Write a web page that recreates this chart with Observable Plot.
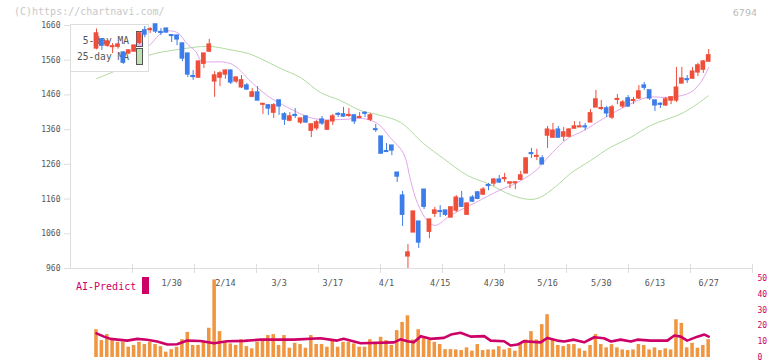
<!DOCTYPE html>
<html><head><meta charset="utf-8">
<script src="https://cdn.jsdelivr.net/npm/d3@7"></script>
<script src="https://cdn.jsdelivr.net/npm/@observablehq/plot@0.6"></script>
<style>
html,body{margin:0;padding:0;background:#fff;}
#wrap{position:relative;width:772px;height:361px;overflow:hidden;}
#wrap svg{position:absolute;left:0;top:0;}
</style></head><body>
<div id="wrap"></div>
<script>
// ---- data (index = trading day) ----
const opens = [1594,1620,1602,1598,1599,1582,1580,1585,1610,1646,
1647,1663,1641,1651,1632,1631,1608,1579,1514,1510,
1550,1585,1499,1510,1519,1530,1499,1482,1487,1455,
1467,1432,1430,1409,1444,1404,1386,1402,1381,1398,
1357,1364,1389,1360,1384,1405,1404,1400,1401,1394,
1408,1389,1361,1340,1298,1314,1236,1170,995,1064,
1095,1187,1066,1118,1125,1127,1107,1127,1161,1115,
1164,1179,1173,1200,1205,1216,1218,1205,1206,1216,
1234,1292,1282,1277,1343,1337,1360,1340,1340,1363,
1367,1369,1381,1424,1420,1421,1395,1446,1427,1450,
1443,1450,1487,1473,1444,1434,1430,1444,1444,1493,
1505,1507,1525,1533,1556];
const highs = [1650,1620,1617,1608,1607,1585,1590,1603,1642,1657,
1654,1664,1651,1652,1634,1632,1610,1580,1530,1558,
1580,1620,1527,1527,1532,1532,1511,1516,1493,1478,
1484,1435,1432,1435,1445,1409,1409,1421,1392,1398,
1375,1386,1398,1386,1404,1409,1424,1421,1402,1409,
1412,1407,1375,1340,1320,1314,1236,1182,1029,1124,
1095,1187,1101,1136,1141,1127,1136,1170,1182,1147,
1170,1182,1193,1205,1219,1228,1234,1208,1208,1240,
1277,1306,1303,1285,1369,1378,1369,1366,1363,1383,
1383,1378,1418,1473,1444,1427,1430,1461,1444,1458,
1453,1487,1496,1473,1444,1438,1453,1453,1539,1539,
1516,1539,1551,1559,1591];
const lows = [1590,1588,1597,1579,1592,1548,1576,1583,1605,1625,
1637,1637,1631,1638,1611,1602,1556,1510,1502,1508,
1536,1583,1453,1484,1505,1490,1493,1478,1473,1453,
1444,1404,1401,1392,1401,1372,1383,1392,1375,1378,
1337,1357,1372,1358,1372,1395,1395,1395,1375,1392,
1395,1383,1352,1291,1294,1285,1208,1081,960,1064,
1018,1130,1046,1107,1107,1110,1107,1121,1136,1115,
1150,1158,1170,1184,1196,1205,1208,1190,1187,1213,
1234,1277,1271,1260,1306,1337,1337,1326,1337,1363,
1366,1357,1381,1424,1415,1395,1389,1432,1421,1424,
1432,1447,1473,1444,1412,1421,1427,1432,1438,1493,
1493,1507,1513,1522,1556];
const closes = [1637,1602,1614,1600,1605,1553,1588,1602,1637,1634,
1649,1643,1639,1640,1630,1620,1565,1519,1512,1556,
1579,1605,1516,1522,1530,1496,1510,1502,1476,1467,
1444,1434,1421,1430,1427,1389,1398,1400,1392,1381,
1375,1381,1378,1384,1398,1403,1398,1402,1384,1396,
1406,1401,1359,1291,1296,1300,1225,1115,1006,1124,
1035,1138,1101,1127,1123,1115,1136,1164,1138,1147,
1153,1161,1187,1198,1216,1208,1220,1208,1208,1228,
1277,1290,1284,1260,1360,1357,1337,1352,1360,1369,
1369,1367,1407,1447,1422,1407,1424,1448,1438,1427,
1445,1470,1481,1450,1430,1432,1447,1453,1481,1507,
1503,1527,1545,1556,1574];
const volumes = [17.6,10.7,14.5,10.7,9.6,9.6,6.5,7.6,9.6,8.2,
9.6,8.2,6.9,3.4,5.0,6.5,11.3,15.9,7.6,7.6,
9.6,18.5,49.1,16.4,9.6,8.6,7.6,11.3,6.9,5.5,
9.6,11.1,13.9,14.5,7.6,13.9,5.9,9.0,8.2,5.9,
13.9,8.2,8.2,6.5,11.1,6.5,9.6,9.6,8.6,6.5,
6.5,11.3,9.6,12.8,10.7,7.6,17.0,22.2,26.4,11.1,
17.6,12.8,11.3,9.6,8.2,5.0,5.0,4.8,4.4,6.1,
4.0,8.2,4.4,4.8,4.8,6.9,4.8,5.7,4.0,8.2,
11.1,16.4,11.1,20.8,27.1,11.1,7.6,6.9,8.2,8.2,
5.5,4.0,7.6,14.5,8.2,6.1,8.2,6.1,4.8,4.4,
4.8,8.2,7.6,4.8,6.1,4.4,5.5,4.8,23.9,21.6,
6.1,9.0,5.9,7.6,11.3];

const ma5Idx = [9,10,12.5,15,17,18.5,19.5,21,23.5,25.3,27,28.3,31.8,35.6,40.4,45.4,49.5,52.3,54.7,57.2,58.5,59.8,61.6,63.1,65.9,70.6,75,78.4,81.8,84.9,87.7,90.7,94.4,98.9,102.6,106.9,110.6,112.5,114];
const ma5 = [1592,1605,1642,1640,1605,1585,1558,1555,1555,1548,1527,1505,1458,1424,1392,1389,1392,1378,1337,1291,1213,1147,1098,1084,1113,1150,1185,1208,1242,1294,1334,1357,1392,1430,1453,1453,1467,1496,1539];
const ma25Idx = [0,3.2,9.7,15.3,20.9,24.6,28.3,30.5,34.3,38,41.7,45.4,49.2,52.9,56.6,60.9,64.6,69.1,72.8,77.5,80.6,82.5,85.5,88.3,92,95.7,99.4,103.2,109.3,114];
const ma25 = [1507,1527,1574,1591,1600,1591,1579,1565,1536,1510,1467,1444,1415,1401,1381,1320,1277,1228,1205,1170,1159,1164,1196,1234,1271,1309,1337,1372,1409,1458];

const aiIdx = [0,1.4,2.6,5.7,7.6,9.4,11.3,13.2,15,16.9,19.4,21.9,24.3,27.5,30.6,36.8,41.7,44.8,46,49.2,55.4,56.6,57.9,59.1,60.4,62.2,64.7,66,67.8,69.7,72.2,73.4,75.9,77.1,78.4,79.6,82.7,84,85.8,87.1,88.9,90.8,92.7,94.5,95.8,97.6,99.5,100.7,103.2,106.3,107.6,108.8,110,111.9,113.2,114];
const aiVal = [15.3,13.2,11.8,10.7,11.8,11.2,10.1,8.2,8.4,10.7,10.4,9.0,10.3,10.5,11.3,11.3,12.2,10.7,11.8,9.0,9.6,11.5,10.3,9.6,13.5,11.8,12.4,14.5,15.7,13.2,13.5,10.7,10.3,7.6,8.2,10.3,9.6,12.4,10.7,10.1,11.3,9.6,12.8,12.2,10.1,11.3,10.1,11.3,10.7,10.7,13.9,13.2,10.7,13.2,14.5,13.2];

const dateIdx = [14,24,34,44,54,64,74,84,94,104,114];
const dateLabels = ["1/30","2/14","3/3","3/17","4/1","4/15","4/30","5/16","5/30","6/13","6/27"];
const yTicks = [960,1060,1160,1260,1360,1460,1560,1660];
const volTicks = [0,10,20,30,40,50];

// ---- styling ----
const RED = "#ef4e3b", BLUE = "#3d7de9", ORANGE = "#f19640", MAG = "#cc0066";
const MONO = "DejaVu Sans Mono";
const xDomain = [-4.84, 122.16];

const candles = opens.map((o, i) => ({i, o, h: highs[i], l: lows[i], c: closes[i]}));
const colorOf = d => d.c >= d.o ? RED : BLUE;

function decor(index, scales, values, dims) {
  const g = d3.create("svg:g");
  g.append("text").attr("x", 14).attr("y", 15).attr("text-anchor", "start").attr("font-family", MONO).attr("font-size", 10)
    .attr("fill", "#c8c8c8").text("(C)https://chartnavi.com/");
  g.append("text").attr("x", 757).attr("y", 16).attr("text-anchor", "end").attr("font-family", "DejaVu Sans")
    .attr("font-size", 9.5).attr("fill", "#bbbbbb").text("6794");
  const x0 = dims.marginLeft, yb = dims.height - dims.marginBottom;
  for (let k = 1; k <= 11; k++) {
    const x = Math.round(x0 + 62 * k) + 0.5;
    g.append("line").attr("x1", x).attr("x2", x).attr("y1", yb - 4).attr("y2", yb + 5).attr("stroke", "#dddddd");
  }
  return g.node();
}

function legend(index, scales, values, dims) {
  const g = d3.create("svg:g");
  const L = dims.marginLeft, T = dims.marginTop - 1;
  g.append("rect").attr("x", L + 0.5).attr("y", T + 0.5).attr("width", 78).attr("height", 47)
    .attr("fill", "white").attr("stroke", "#dddddd");
  g.append("text").attr("x", L + 59).attr("y", T + 20).attr("text-anchor", "end").attr("font-family", MONO)
    .attr("font-size", 9.6).attr("fill", "#555").text("5-day MA");
  g.append("text").attr("x", L + 59).attr("y", T + 36).attr("text-anchor", "end").attr("font-family", MONO)
    .attr("font-size", 9.6).attr("fill", "#555").text("25-day MA");
  g.append("rect").attr("x", L + 66.5).attr("y", T + 7.5).attr("width", 6).attr("height", 15)
    .attr("fill", "#ecbaf0").attr("stroke", "#555");
  g.append("rect").attr("x", L + 66.5).attr("y", T + 24.5).attr("width", 6).attr("height", 16)
    .attr("fill", "#c0e2b2").attr("stroke", "#555");
  return g.node();
}

function aiLabel(index, scales, values, dims) {
  const g = d3.create("svg:g");
  g.append("text").attr("x", 76).attr("y", 290).attr("text-anchor", "start").attr("font-family", MONO).attr("font-size", 10)
    .attr("fill", MAG).text("AI-Predict");
  g.append("rect").attr("x", 142).attr("y", 277).attr("width", 7).attr("height", 17).attr("fill", MAG);
  return g.node();
}

const main = Plot.plot({
  width: 772, height: 361,
  marginTop: 25, marginBottom: 93, marginLeft: 70, marginRight: 20,
  x: {type: "linear", domain: xDomain},
  y: {domain: [960, 1660]},
  color: {type: "identity"},
  style: {background: "transparent", overflow: "visible"},
  marks: [
    decor,
    Plot.ruleX([xDomain[0]], {stroke: "#dddddd"}),
    Plot.ruleY([960], {stroke: "#dddddd"}),
    Plot.axisY({ticks: yTicks, tickSize: 6, tickPadding: 4, stroke: "#dddddd", fill: "#555",
      fontFamily: MONO, fontSize: 8, tickFormat: d => String(d), label: null}),
    Plot.axisX({ticks: dateIdx, tickFormat: d => dateLabels[dateIdx.indexOf(d)], tickSize: 0, tickPadding: 11,
      fill: "#555", fontFamily: MONO, fontSize: 8.5, label: null}),
    Plot.line(ma25Idx.map((d, k) => ({i: d, v: ma25[k]})), {x: "i", y: "v", stroke: "#b2da9f", strokeWidth: 1, curve: "catmull-rom"}),
    Plot.line(ma5Idx.map((d, k) => ({i: d, v: ma5[k]})), {x: "i", y: "v", stroke: "#e2a8ea", strokeWidth: 1, curve: "catmull-rom"}),
    legend,
    Plot.ruleX(candles, {x: "i", y1: "l", y2: "h", stroke: colorOf, strokeWidth: 1}),
    Plot.rect(candles, {x1: d => d.i - 0.44, x2: d => d.i + 0.44,
      y1: d => Math.min(d.o, d.c), y2: d => Math.max(d.o, d.c),
      fill: colorOf, insetTop: -0.7, insetBottom: -0.7})
  ]
});

const vol = Plot.plot({
  width: 772, height: 361,
  marginTop: 278, marginBottom: 4, marginLeft: 70, marginRight: 20,
  x: {type: "linear", domain: xDomain, axis: null},
  y: {domain: [0, 50]},
  style: {background: "transparent", overflow: "visible"},
  marks: [
    aiLabel,
    Plot.rectY(volumes.map((v, i) => ({i, v})), {x1: d => d.i - 0.33, x2: d => d.i + 0.33, y: "v", fill: ORANGE}),
    Plot.line(aiIdx.map((d, k) => ({i: d, v: aiVal[k]})), {x: "i", y: "v", stroke: MAG, strokeWidth: 2.6}),
    Plot.axisY({anchor: "right", ticks: volTicks, tickSize: 0, tickPadding: 5, fill: MAG,
      fontFamily: MONO, fontSize: 8, label: null})
  ]
});

const wrap = document.getElementById("wrap");
wrap.appendChild(main);
wrap.appendChild(vol);
</script>
</body></html>
